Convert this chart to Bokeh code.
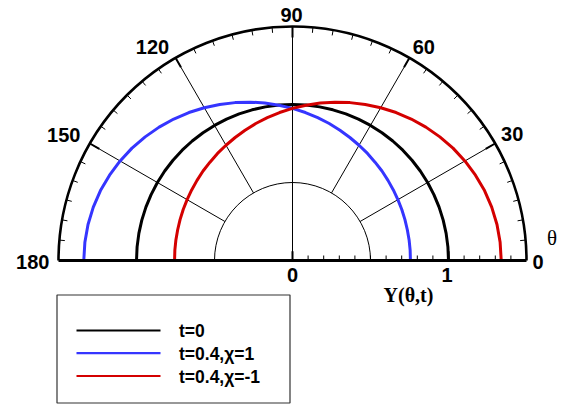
import numpy as np
from bokeh.plotting import figure
from bokeh.models import Range1d
from bokeh.embed import file_html
from bokeh.resources import INLINE
from bokeh.core.properties import value

# ---------------- data ----------------
theta_deg = list(range(0, 181, 5))
y_t0 = [1.0] * 37
y_chi_pos = [0.756, 0.757, 0.759, 0.762, 0.767, 0.773, 0.780, 0.789, 0.799, 0.811,
             0.823, 0.838, 0.853, 0.870, 0.889, 0.909, 0.930, 0.952, 0.975, 0.999,
             1.025, 1.051, 1.077, 1.104, 1.131, 1.158, 1.184, 1.209, 1.233, 1.256,
             1.276, 1.294, 1.310, 1.322, 1.331, 1.336, 1.338]
y_chi_neg = [1.338, 1.336, 1.331, 1.322, 1.310, 1.294, 1.276, 1.256, 1.233, 1.209,
             1.184, 1.158, 1.131, 1.104, 1.077, 1.051, 1.025, 0.999, 0.975, 0.952,
             0.930, 0.909, 0.889, 0.870, 0.853, 0.838, 0.823, 0.811, 0.799, 0.789,
             0.780, 0.773, 0.767, 0.762, 0.759, 0.757, 0.756]
series_names = ["t=0", "t=0.4,\u03c7=1", "t=0.4,\u03c7=-1"]
series_values = [y_t0, y_chi_pos, y_chi_neg]
series_colors = ["#000000", "#3535ff", "#d40000"]

angle_major = [0, 30, 60, 90, 120, 150, 180]
angle_labels = ["0", "30", "60", "90", "120", "150", "180"]
radial_major = [0, 1]
radial_labels = ["0", "1"]
r_max = 1.5
r_inner = 0.5
x_title = "Y(\u03b8,t)"
theta_title = "\u03b8"

# ---------------- figure ----------------
S = 156.0  # px per unit
W, H = 571, 408
CX, CY = 292, 260
x0 = -CX / S
y1 = CY / S
p = figure(width=W, height=H, output_backend="svg", toolbar_location=None,
           x_range=Range1d(x0, x0 + W / S), y_range=Range1d(y1 - H / S, y1),
           x_axis_type=None, y_axis_type=None, min_border=0)
p.xgrid.visible = False
p.ygrid.visible = False
p.outline_line_color = None
p.background_fill_color = "white"

def px(xp):
    return (xp - CX) / S

def py(yp):
    return (CY - yp) / S

# grid lines
for a in angle_major[1:-1]:
    t = np.radians(a)
    r0 = 0.0 if a == 90 else r_inner
    p.segment(x0=[r0 * np.cos(t)], y0=[r0 * np.sin(t)], x1=[r_max * np.cos(t)], y1=[r_max * np.sin(t)],
              line_color="black", line_width=1)
p.arc(x=[0], y=[0], radius=r_inner, start_angle=0, end_angle=np.pi, line_color="black", line_width=1)

# angular ticks
minor = [a for a in range(5, 180, 5) if a % 30 != 0]
tm = np.radians(minor)
p.segment(x0=r_max * np.cos(tm), y0=r_max * np.sin(tm),
          x1=(r_max - 0.035) * np.cos(tm), y1=(r_max - 0.035) * np.sin(tm),
          line_color="black", line_width=1)
tM = np.radians(angle_major[1:-1])
p.segment(x0=r_max * np.cos(tM), y0=r_max * np.sin(tM),
          x1=(r_max - 0.07) * np.cos(tM), y1=(r_max - 0.07) * np.sin(tM),
          line_color="black", line_width=2)

# radial ticks
rminor = [round(0.1 * i, 1) for i in range(1, 15) if i != 10]
p.segment(x0=rminor, y0=[0] * len(rminor), x1=rminor, y1=[0.032] * len(rminor),
          line_color="black", line_width=1)
p.segment(x0=radial_major, y0=[0, 0], x1=radial_major, y1=[0.06, 0.06],
          line_color="black", line_width=2)

# curves
th = np.radians(theta_deg)
for vals, col in zip(series_values, series_colors):
    r = np.array(vals)
    p.line(r * np.cos(th), r * np.sin(th), line_color=col, line_width=3)

# frame: outer arc and base line
p.arc(x=[0], y=[0], radius=r_max, start_angle=0, end_angle=np.pi, line_color="black", line_width=2.6)
p.segment(x0=[-r_max], y0=[0], x1=[r_max], y1=[0], line_color="black", line_width=3)

# angle labels
lab_px = [(537.5, 261.5), (511.7, 133.8), (423.3, 46.5), (291, 14), (152, 46.5), (63.3, 134.5), (32.2, 261)]
p.text(x=[px(a) for a, b in lab_px], y=[py(b) for a, b in lab_px], text=angle_labels,
       text_font=value("Liberation Sans"), text_font_style="bold", text_font_size="20px",
       text_align="center", text_baseline="middle", text_color="black")
# radial labels
p.text(x=[px(292), px(446.5)], y=[py(274), py(274)], text=radial_labels,
       text_font=value("Liberation Sans"), text_font_style="bold", text_font_size="20px",
       text_align="center", text_baseline="middle", text_color="black")
# axis titles
p.text(x=[px(408)], y=[py(294.5)], text=[x_title],
       text_font=value("Liberation Serif"), text_font_style="bold", text_font_size="20px",
       text_align="center", text_baseline="middle", text_color="black")
p.text(x=[px(551.5)], y=[py(237)], text=[theta_title],
       text_font=value("Liberation Serif"), text_font_size="21px",
       text_align="center", text_baseline="middle", text_color="black")

# legend box
p.quad(left=[px(56.5)], right=[px(289.5)], top=[py(294.5)], bottom=[py(402.5)],
       fill_color="white", line_color="#333333", line_width=1.2)
leg_y = [330, 352.7, 375.5]
for yy, col, name in zip(leg_y, series_colors, series_names):
    p.segment(x0=[px(76)], y0=[py(yy)], x1=[px(160)], y1=[py(yy)], line_color=col, line_width=2.2)
    p.text(x=[px(178.5)], y=[py(yy + 0.5)], text=[name],
           text_font=value("Liberation Sans"), text_font_style="bold", text_font_size="17.5px",
           text_align="left", text_baseline="middle", text_color="black")

open("out.html", "w").write(file_html(p, INLINE))
